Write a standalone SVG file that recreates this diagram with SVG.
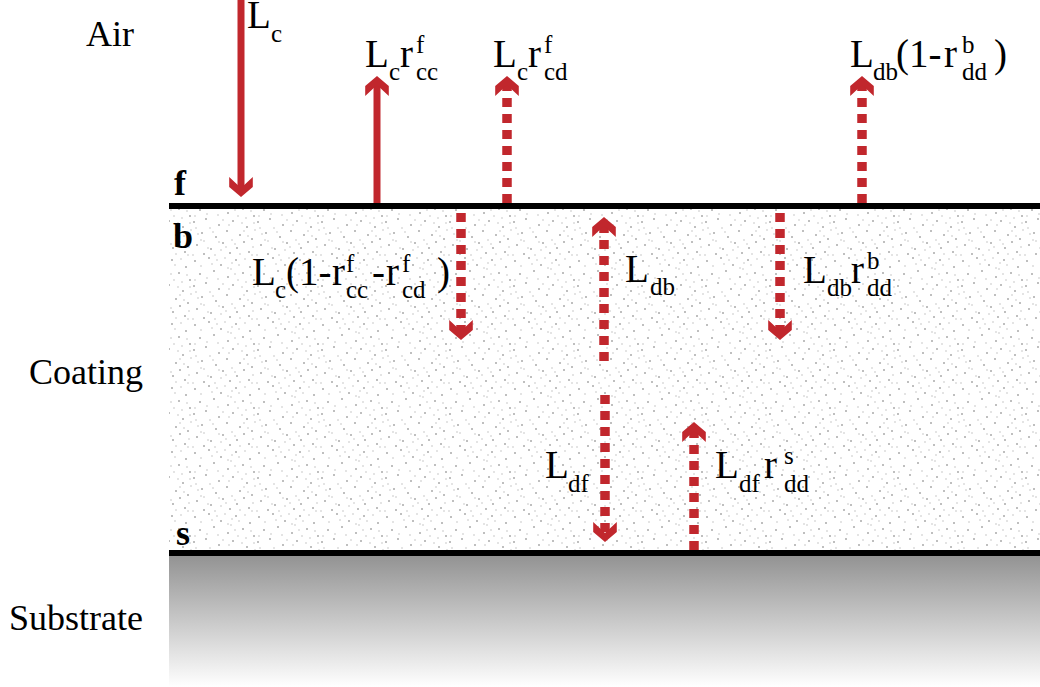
<svg xmlns="http://www.w3.org/2000/svg" width="1040" height="687" viewBox="0 0 1040 687">
  <style>
    .t { font-family: "Liberation Serif", "Times New Roman", serif; fill: #000; }
    .m { font-size: 39px; }
    .s { font-size: 25px; }
    .lab { font-size: 36px; }
    .if { font-size: 36px; font-weight: bold; }
    .solid { stroke: #C1272D; stroke-width: 7; fill: none; }
    .dash { stroke: #C1272D; stroke-width: 9.5; fill: none; stroke-dasharray: 9 7; }
    .iface { stroke: #000; stroke-width: 6; }
  </style>
  <defs>
    <marker id="ah" markerUnits="userSpaceOnUse" markerWidth="24" markerHeight="26" viewBox="-12 -13 24 26" refX="0" refY="0" orient="auto" overflow="visible">
      <polygon points="9,0 -1,-11.8 -11,-11.8 0,0 -11,11.8 -1,11.8" fill="#C1272D"/>
    </marker>
    <pattern id="stipple" width="64" height="64" patternUnits="userSpaceOnUse">
      <g fill="#a9a9a9">
        <circle cx="3" cy="5" r="1"/><circle cx="17" cy="2" r="1"/><circle cx="29" cy="9" r="1"/><circle cx="44" cy="4" r="1"/>
        <circle cx="58" cy="11" r="1"/><circle cx="8" cy="18" r="1"/><circle cx="22" cy="15" r="1"/><circle cx="36" cy="21" r="1"/>
        <circle cx="51" cy="17" r="1"/><circle cx="62" cy="24" r="1"/><circle cx="2" cy="30" r="1"/><circle cx="14" cy="27" r="1"/>
        <circle cx="27" cy="33" r="1"/><circle cx="41" cy="29" r="1"/><circle cx="55" cy="35" r="1"/><circle cx="10" cy="41" r="1"/>
        <circle cx="24" cy="45" r="1"/><circle cx="35" cy="39" r="1"/><circle cx="48" cy="43" r="1"/><circle cx="60" cy="47" r="1"/>
        <circle cx="5" cy="53" r="1"/><circle cx="19" cy="57" r="1"/><circle cx="31" cy="51" r="1"/><circle cx="45" cy="56" r="1"/>
        <circle cx="57" cy="60" r="1"/><circle cx="12" cy="62" r="1"/><circle cx="38" cy="61" r="1"/><circle cx="52" cy="50" r="1"/>
      </g>
      <g fill="#c2c2c2">
        <circle cx="26" cy="23" r="0.8"/><circle cx="47" cy="9" r="0.8"/><circle cx="33" cy="2" r="0.8"/><circle cx="6" cy="42" r="0.8"/>
        <circle cx="18" cy="36" r="0.8"/><circle cx="40" cy="48" r="0.8"/><circle cx="63" cy="38" r="0.8"/><circle cx="54" cy="26" r="0.8"/>
        <circle cx="1" cy="63" r="0.8"/><circle cx="29" cy="58" r="0.8"/><circle cx="43" cy="18" r="0.8"/><circle cx="20" cy="8" r="0.8"/>
        <circle cx="12" cy="49" r="0.8"/><circle cx="50" cy="31" r="0.8"/><circle cx="36" cy="12" r="0.8"/><circle cx="61" cy="55" r="0.8"/>
        <circle cx="9" cy="10" r="0.8"/><circle cx="25" cy="4" r="0.8"/><circle cx="39" cy="13" r="0.8"/><circle cx="53" cy="3" r="0.8"/>
        <circle cx="15" cy="22" r="0.8"/><circle cx="31" cy="28" r="0.8"/><circle cx="46" cy="24" r="0.8"/><circle cx="59" cy="19" r="0.8"/>
        <circle cx="4" cy="36" r="0.8"/><circle cx="21" cy="40" r="0.8"/><circle cx="37" cy="33" r="0.8"/><circle cx="52" cy="39" r="0.8"/>
        <circle cx="62" cy="31" r="0.8"/><circle cx="9" cy="48" r="0.8"/><circle cx="27" cy="50" r="0.8"/><circle cx="43" cy="52" r="0.8"/>
        <circle cx="56" cy="44" r="0.8"/><circle cx="16" cy="56" r="0.8"/><circle cx="34" cy="55" r="0.8"/><circle cx="48" cy="62" r="0.8"/>
        <circle cx="60" cy="63" r="0.8"/><circle cx="23" cy="63" r="0.8"/><circle cx="3" cy="24" r="0.8"/><circle cx="40" cy="7" r="0.8"/>
      </g>
    </pattern>
    <linearGradient id="subgrad" x1="0" y1="0" x2="0" y2="1">
      <stop offset="0" stop-color="#939393"/>
      <stop offset="1" stop-color="#ffffff"/>
    </linearGradient>
  </defs>

  <rect width="1040" height="687" fill="#fff"/>

  <g id="coating">
    <rect x="169" y="209" width="871" height="341" fill="url(#stipple)"/>
  </g>
  <g id="substrate">
    <rect x="169" y="556" width="871" height="131" fill="url(#subgrad)"/>
  </g>
  <g id="interfaces">
    <line class="iface" x1="169" y1="206" x2="1040" y2="206"/>
    <line class="iface" x1="169" y1="553" x2="1040" y2="553"/>
  </g>

  <g id="layer-labels" class="t lab">
    <text id="label-air" x="86" y="46">Air</text>
    <text id="label-coating" x="29" y="384">Coating</text>
    <text id="label-substrate" x="9" y="630">Substrate</text>
  </g>
  <g id="interface-labels" class="t if">
    <text id="label-f" x="174" y="195">f</text>
    <text id="label-b" x="173" y="248">b</text>
    <text id="label-s" x="176" y="545">s</text>
  </g>

  <g id="connectors">
    <line class="solid" x1="241" y1="0" x2="241" y2="188" marker-end="url(#ah)"/>
    <line class="solid" x1="377" y1="203" x2="377" y2="85" marker-end="url(#ah)"/>
    <line class="dash" x1="507" y1="203" x2="507" y2="85" marker-end="url(#ah)"/>
    <line class="dash" x1="862" y1="203" x2="862" y2="85" marker-end="url(#ah)"/>
    <line class="dash" x1="461" y1="213" x2="461" y2="331" marker-end="url(#ah)"/>
    <line class="dash" x1="604" y1="361" x2="604" y2="226" marker-end="url(#ah)"/>
    <line class="dash" x1="780" y1="213" x2="780" y2="331" marker-end="url(#ah)"/>
    <line class="dash" x1="605" y1="395" x2="605" y2="533" marker-end="url(#ah)"/>
    <line class="dash" x1="694" y1="550" x2="694" y2="431" marker-end="url(#ah)"/>
  </g>

  <g id="flux-labels" class="t">
    <g id="lbl-Lc">
      <text class="m" x="247" y="28">L</text><text class="s" x="271" y="42">c</text>
    </g>
    <g id="lbl-Lc-rcc">
      <text class="m" x="365" y="67">L</text><text class="s" x="389" y="80">c</text>
      <text class="m" x="400" y="67">r</text><text class="s" x="416" y="53">f</text><text class="s" x="416" y="80">cc</text>
    </g>
    <g id="lbl-Lc-rcd">
      <text class="m" x="493" y="67">L</text><text class="s" x="517" y="80">c</text>
      <text class="m" x="528" y="67">r</text><text class="s" x="544" y="53">f</text><text class="s" x="544" y="80">cd</text>
    </g>
    <g id="lbl-Ldb-1-rdd">
      <text class="m" x="850" y="67">L</text><text class="s" x="873" y="80">db</text>
      <text class="m" x="896" y="67">(1-</text>
      <text class="m" x="944" y="67">r</text><text class="s" x="962" y="53">b</text><text class="s" x="962" y="80">dd</text>
      <text class="m" x="994" y="67">)</text>
    </g>
    <g id="lbl-Lc-trans">
      <text class="m" x="252" y="285">L</text><text class="s" x="275" y="298">c</text>
      <text class="m" x="286" y="285">(1-</text>
      <text class="m" x="332" y="285">r</text><text class="s" x="346" y="272">f</text><text class="s" x="346" y="298">cc</text>
      <text class="m" x="372" y="285">-</text>
      <text class="m" x="386" y="285">r</text><text class="s" x="402" y="272">f</text><text class="s" x="402" y="298">cd</text>
      <text class="m" x="437" y="285">)</text>
    </g>
    <g id="lbl-Ldb">
      <text class="m" x="625" y="282">L</text><text class="s" x="650" y="295">db</text>
    </g>
    <g id="lbl-Ldb-rdd">
      <text class="m" x="803" y="283">L</text><text class="s" x="827" y="296">db</text>
      <text class="m" x="851" y="283">r</text><text class="s" x="867" y="269">b</text><text class="s" x="867" y="296">dd</text>
    </g>
    <g id="lbl-Ldf">
      <text class="m" x="545" y="478">L</text><text class="s" x="568" y="492">df</text>
    </g>
    <g id="lbl-Ldf-rdd">
      <text class="m" x="715" y="478">L</text><text class="s" x="739" y="492">df</text>
      <text class="m" x="764" y="478">r</text><text class="s" x="784" y="464">s</text><text class="s" x="784" y="492">dd</text>
    </g>
  </g>
</svg>
